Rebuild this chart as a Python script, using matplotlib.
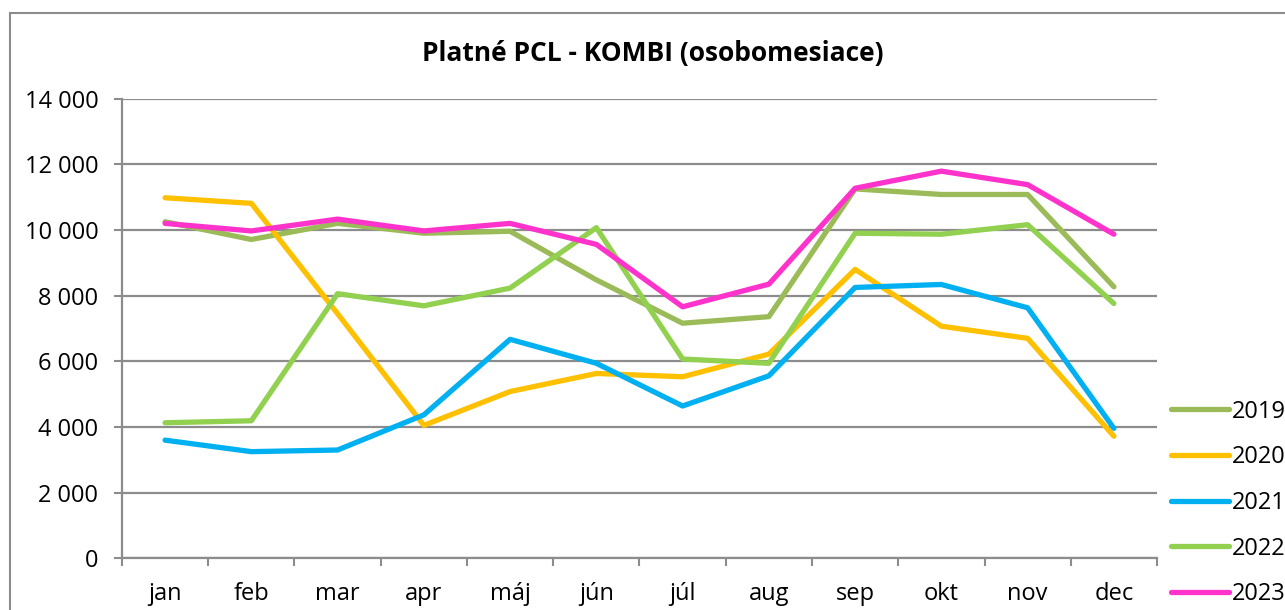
import matplotlib
matplotlib.use('agg')
import matplotlib.pyplot as plt
from matplotlib.patches import Rectangle
from matplotlib.ticker import FixedLocator, FuncFormatter

plt.rcParams.update({
    "font.family": ["Open Sans", "DejaVu Sans"],
    "font.size": 17})

months = ['jan', 'feb', 'mar', 'apr', 'máj', 'jún', 'júl', 'aug', 'sep', 'okt', 'nov', 'dec']
years = ['2019', '2020', '2021', '2022', '2023']
colors = ['#9BBB59', '#FFC000', '#00B0F0', '#92D050', '#FF33CC']

v2019 = [10250, 9710, 10200, 9900, 9960, 8480, 7160, 7360, 11250, 11080, 11080, 8270]
v2020 = [10980, 10810, 7450, 4050, 5080, 5630, 5530, 6220, 8800, 7070, 6700, 3720]
v2021 = [3600, 3250, 3300, 4370, 6670, 5940, 4640, 5560, 8250, 8340, 7630, 3960]
v2022 = [4130, 4190, 8060, 7690, 8230, 10070, 6070, 5940, 9900, 9870, 10160, 7760]
v2023 = [10200, 9970, 10330, 9970, 10200, 9560, 7660, 8350, 11270, 11790, 11380, 9870]
series = [v2019, v2020, v2021, v2022, v2023]


def main():
    fig = plt.figure(figsize=(12.85, 6.10), dpi=100)
    ax = fig.add_axes([0.0949, 0.0846, 0.8055, 0.7538])

    x = list(range(len(months)))
    for lbl, vals, c in zip(years, series, colors):
        ax.plot(x, vals, color=c, lw=3.8, label=lbl,
                solid_capstyle='round', solid_joinstyle='round')

    ax.set_xlim(-0.5, len(months) - 0.5)
    ax.set_ylim(0, 14000)
    ax.set_yticks(range(0, 14001, 2000))
    ax.yaxis.set_major_formatter(FuncFormatter(lambda v, p: f"{int(v):,}".replace(",", " ")))
    ax.set_xticks(x)
    ax.set_xticklabels(months)
    ax.xaxis.set_minor_locator(FixedLocator([i - 0.5 for i in range(len(months) + 1)]))
    ax.tick_params(axis='x', which='major', length=0, pad=17)
    ax.tick_params(axis='x', which='minor', length=6, width=1.5, color='#8c8c8c', direction='out')
    ax.tick_params(axis='y', length=6, width=1.5, color='#8c8c8c', pad=11)

    ax.grid(axis='y', color='#8c8c8c', lw=1.6)
    ax.set_axisbelow(True)
    for s in ['top', 'right']:
        ax.spines[s].set_visible(False)
    for s in ['left', 'bottom']:
        ax.spines[s].set_color('#8c8c8c')
        ax.spines[s].set_linewidth(1.6)

    fig.text(0.508, 0.913, "Platné PCL - KOMBI (osobomesiace)", ha='center', va='center',
             fontsize=19, fontweight='bold')

    fig.legend(loc='center left', bbox_to_anchor=(0.9113, 0.1754), frameon=False,
               borderpad=0, borderaxespad=0, handlelength=2.45, handletextpad=0.12,
               labelspacing=0.92, fontsize=17)

    fig.patches.append(Rectangle((0.0078, -0.1), 1.2, 0.0787 + 1.0, transform=fig.transFigure,
                                 fill=False, edgecolor='#8c8c8c', lw=1.5))

    plt.savefig("out.png", dpi=100)


if __name__ == "__main__":
    main()
